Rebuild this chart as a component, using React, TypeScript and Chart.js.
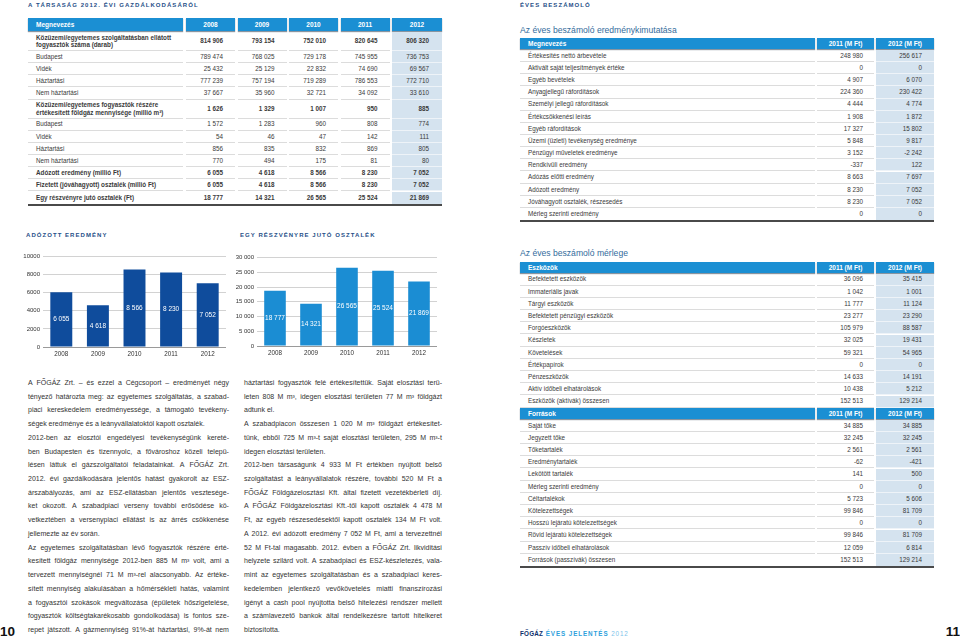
import React, { useEffect, useRef } from 'react';
import { Chart, registerables } from 'chart.js';

Chart.register(...registerables);

const FONT = '"Liberation Sans", Arial, Helvetica, sans-serif';

// ---------- chart data ----------
const years = ['2008', '2009', '2010', '2011', '2012'];
const adozottEredmeny = [6055, 4618, 8566, 8230, 7052];
const reszvenyreJutoOsztalek = [18777, 14321, 26565, 25524, 21869];

// ---------- table data ----------
const leftHeader = ['Megnevezés', '2008', '2009', '2010', '2011', '2012'];
const leftRows = [
  { label: ['Közüzemi/egyetemes szolgáltatásban ellátott', 'fogyasztók száma (darab)'], v: ['814 906', '793 154', '752 010', '820 645', '806 320'], bold: true },
  { label: ['Budapest'], v: ['789 474', '768 025', '729 178', '745 955', '736 753'] },
  { label: ['Vidék'], v: ['25 432', '25 129', '22 832', '74 690', '69 567'] },
  { label: ['Háztartási'], v: ['777 239', '757 194', '719 289', '786 553', '772 710'] },
  { label: ['Nem háztartási'], v: ['37 667', '35 960', '32 721', '34 092', '33 610'] },
  { label: ['Közüzemi/egyetemes fogyasztók részére', 'értékesített földgáz mennyisége (millió m³)'], v: ['1 626', '1 329', '1 007', '950', '885'], bold: true },
  { label: ['Budapest'], v: ['1 572', '1 283', '960', '808', '774'] },
  { label: ['Vidék'], v: ['54', '46', '47', '142', '111'] },
  { label: ['Háztartási'], v: ['856', '835', '832', '869', '805'] },
  { label: ['Nem háztartási'], v: ['770', '494', '175', '81', '80'] },
  { label: ['Adózott eredmény (millió Ft)'], v: ['6 055', '4 618', '8 566', '8 230', '7 052'], bold: true },
  { label: ['Fizetett (jóváhagyott) osztalék (millió Ft)'], v: ['6 055', '4 618', '8 566', '8 230', '7 052'], bold: true },
  { label: ['Egy részvényre jutó osztalék (Ft)'], v: ['18 777', '14 321', '26 565', '25 524', '21 869'], bold: true },
];

const incomeHeader = ['Megnevezés', '2011 (M Ft)', '2012 (M Ft)'];
const incomeRows = [
  ['Értékesítés nettó árbevétele', '248 980', '256 617'],
  ['Aktivált saját teljesítmények értéke', '0', '0'],
  ['Egyéb bevételek', '4 907', '6 070'],
  ['Anyagjellegű ráfordítások', '224 360', '230 422'],
  ['Személyi jellegű ráfordítások', '4 444', '4 774'],
  ['Értékcsökkenési leírás', '1 908', '1 872'],
  ['Egyéb ráfordítások', '17 327', '15 802'],
  ['Üzemi (üzleti) tevékenység eredménye', '5 848', '9 817'],
  ['Pénzügyi műveletek eredménye', '3 152', '-2 242'],
  ['Rendkívüli eredmény', '-337', '122'],
  ['Adózás előtti eredmény', '8 663', '7 697'],
  ['Adózott eredmény', '8 230', '7 052'],
  ['Jóváhagyott osztalék, részesedés', '8 230', '7 052'],
  ['Mérleg szerinti eredmény', '0', '0'],
];

const assetsHeader = ['Eszközök', '2011 (M Ft)', '2012 (M Ft)'];
const assetsRows = [
  ['Befektetett eszközök', '36 096', '35 415'],
  ['Immateriális javak', '1 042', '1 001'],
  ['Tárgyi eszközök', '11 777', '11 124'],
  ['Befektetett pénzügyi eszközök', '23 277', '23 290'],
  ['Forgóeszközök', '105 979', '88 587'],
  ['Készletek', '32 025', '19 431'],
  ['Követelések', '59 321', '54 965'],
  ['Értékpapírok', '0', '0'],
  ['Pénzeszközök', '14 633', '14 191'],
  ['Aktív időbeli elhatárolások', '10 438', '5 212'],
  ['Eszközök (aktívák) összesen', '152 513', '129 214'],
];
const sourcesHeader = ['Források', '2011 (M Ft)', '2012 (M Ft)'];
const sourcesRows = [
  ['Saját tőke', '34 885', '34 885'],
  ['Jegyzett tőke', '32 245', '32 245'],
  ['Tőketartalék', '2 561', '2 561'],
  ['Eredménytartalék', '-62', '-421'],
  ['Lekötött tartalék', '141', '500'],
  ['Mérleg szerinti eredmény', '0', '0'],
  ['Céltartalékok', '5 723', '5 606'],
  ['Kötelezettségek', '99 846', '81 709'],
  ['Hosszú lejáratú kötelezettségek', '0', '0'],
  ['Rövid lejáratú kötelezettségek', '99 846', '81 709'],
  ['Passzív időbeli elhatárolások', '12 059', '6 814'],
  ['Források (passzívák) összesen', '152 513', '129 214'],
];

// ---------- body text (line by line, last = paragraph end) ----------
const leftText: [string, boolean][] = [
  ['A FŐGÁZ Zrt. – és ezzel a Cégcsoport – eredményét négy', false],
  ['tényező határozta meg: az egyetemes szolgáltatás, a szabad-', false],
  ['piaci kereskedelem eredményessége, a támogató tevékeny-', false],
  ['ségek eredménye és a leányvállalatoktól kapott osztalék.', true],
  ['2012-ben az elosztói engedélyesi tevékenységünk kereté-', false],
  ['ben Budapesten és tizennyolc, a fővároshoz közeli telepü-', false],
  ['lésen láttuk el gázszolgáltatói feladatainkat. A FŐGÁZ Zrt.', false],
  ['2012. évi gazdálkodására jelentős hatást gyakorolt az ESZ-', false],
  ['árszabályozás, ami az ESZ-ellátásban jelentős vesztesége-', false],
  ['ket okozott. A szabadpiaci verseny további erősödése kö-', false],
  ['vetkeztében a versenypiaci ellátást is az árrés csökkenése', false],
  ['jellemezte az év során.', true],
  ['Az egyetemes szolgáltatásban lévő fogyasztók részére érté-', false],
  ['kesített földgáz mennyisége 2012-ben 885 M m³ volt, ami a', false],
  ['tervezett mennyiségnél 71 M m³-rel alacsonyabb. Az értéke-', false],
  ['sített mennyiség alakulásában a hőmérsékleti hatás, valamint', false],
  ['a fogyasztói szokások megváltozása (épületek hőszigetelése,', false],
  ['fogyasztók költségtakarékosabb gondolkodása) is fontos sze-', false],
  ['repet játszott. A gázmennyiség 91%-át háztartási, 9%-át nem', false],
];
const midText: [string, boolean][] = [
  ['háztartási fogyasztók felé értékesítettük. Saját elosztási terü-', false],
  ['leten 808 M m³, idegen elosztási területen 77 M m³ földgázt', false],
  ['adtunk el.', true],
  ['A szabadpiacon összesen 1 020 M m³ földgázt értékesítet-', false],
  ['tünk, ebből 725 M m³-t saját elosztási területen, 295 M m³-t', false],
  ['idegen elosztási területen.', true],
  ['2012-ben társaságunk 4 933 M Ft értékben nyújtott belső', false],
  ['szolgáltatást a leányvállalatok részére, további 520 M Ft a', false],
  ['FŐGÁZ Földgázelosztási Kft. által fizetett vezetékbérleti díj.', false],
  ['A FŐGÁZ Földgázelosztási Kft.-től kapott osztalék 4 478 M', false],
  ['Ft, az egyéb részesedésektől kapott osztalék 134 M Ft volt.', false],
  ['A 2012. évi adózott eredmény 7 052 M Ft, ami a tervezettnél', false],
  ['52 M Ft-tal magasabb. 2012. évben a FŐGÁZ Zrt. likviditási', false],
  ['helyzete szilárd volt. A szabadpiaci és ESZ-készletezés, vala-', false],
  ['mint az egyetemes szolgáltatásban és a szabadpiaci keres-', false],
  ['kedelemben jelentkező vevőkövetelés miatti finanszírozási', false],
  ['igényt a cash pool nyújtotta belső hitelezési rendszer mellett', false],
  ['a számlavezető bankok által rendelkezésre tartott hitelkeret', false],
  ['biztosította.', true],
];

const fmt = (n: number) => String(n).replace(/\B(?=(\d{3})+(?!\d))/g, ' ');

const HEAD_BG = '#1b8fd3';
const HL_BG = '#d5e3ef';
const TITLE_BLUE = '#1f4f88';

// ---------- Table ----------
type Col = { x: number; w: number; align: 'left' | 'right'; pad: number };
type TRow = { kind: 'head' | 'row'; h: number; cells: (string | string[])[]; bold?: boolean };

function Table({ cols, rows, top, hl }: { cols: Col[]; rows: TRow[]; top: number; hl: number }) {
  const els: any[] = [];
  let y = top;
  const L = cols[0].x;
  const R = cols[cols.length - 1].x + cols[cols.length - 1].w;
  rows.forEach((r, ri) => {
    const isLast = ri === rows.length - 1;
    cols.forEach((c, ci) => {
      const content = r.cells[ci];
      const lines = Array.isArray(content) ? content : [content];
      if (r.kind === 'head') {
        els.push(
          <div key={`${ri}-${ci}`} style={{
            position: 'absolute', left: c.x, top: y, width: c.w, height: r.h - 1,
            background: HEAD_BG, color: '#fff', fontWeight: 'bold', fontSize: 6.5,
            display: 'flex', alignItems: 'center',
            justifyContent: ci === 0 ? 'flex-start' : 'center',
            paddingLeft: ci === 0 ? c.pad : 0, boxSizing: 'border-box',
            boxShadow: '0 1px 1px rgba(40,60,80,0.55)', whiteSpace: 'nowrap',
          }}>{lines[0]}</div>
        );
      } else {
        els.push(
          <div key={`${ri}-${ci}`} style={{
            position: 'absolute', left: c.x, top: y, width: c.w, height: r.h,
            background: ci === hl ? HL_BG : 'transparent',
            borderBottom: isLast ? 'none' : `1px solid ${ci === hl ? '#eef3f8' : '#dcdcdc'}`,
            boxSizing: 'border-box', display: 'flex', flexDirection: 'column', justifyContent: 'center',
            alignItems: c.align === 'left' ? 'flex-start' : 'flex-end',
            paddingLeft: c.align === 'left' ? c.pad : 0, paddingRight: c.align === 'right' ? c.pad : 0,
            fontSize: 6.3, lineHeight: '7.4px', color: '#3a3a3a', fontWeight: r.bold ? 'bold' : 'normal',
            whiteSpace: 'nowrap',
          }}>{lines.map((t, i) => <div key={i}>{t}</div>)}</div>
        );
      }
    });
    y += r.h;
  });
  els.push(<div key="bottom" style={{ position: 'absolute', left: L, top: y, width: R - L, height: 2, background: '#4a4a4a' }} />);
  return <>{els}</>;
}

// ---------- Bar chart ----------
function BarChart(props: {
  left: number; top: number; width: number; height: number; values: number[]; color: string;
  max: number; step: number; yWidth: number; spaced: boolean;
}) {
  const ref = useRef<HTMLCanvasElement>(null);
  useEffect(() => {
    const labelPlugin = {
      id: 'barValueLabels',
      afterDatasetsDraw(chart: any) {
        const ctx = chart.ctx;
        const meta = chart.getDatasetMeta(0);
        ctx.save();
        ctx.fillStyle = '#ffffff';
        ctx.font = `6.5px ${FONT}`;
        ctx.textAlign = 'center';
        ctx.textBaseline = 'middle';
        meta.data.forEach((el: any, i: number) => {
          const v = chart.data.datasets[0].data[i] as number;
          ctx.fillText(fmt(v), el.x, (el.y + el.base) / 2);
        });
        ctx.restore();
      },
    };
    const chart = new Chart(ref.current as HTMLCanvasElement, {
      type: 'bar',
      data: {
        labels: years,
        datasets: [{
          data: props.values, backgroundColor: props.color,
          barPercentage: 0.6, categoryPercentage: 1, borderWidth: 0,
        }],
      },
      options: {
        animation: false, responsive: false, maintainAspectRatio: false, devicePixelRatio: 1,
        layout: { padding: { top: 6, left: 0, right: 0, bottom: 0 } },
        plugins: { legend: { display: false }, tooltip: { enabled: false }, title: { display: false } },
        scales: {
          y: {
            min: 0, max: props.max,
            ticks: {
              stepSize: props.step, padding: 3, color: '#333',
              font: { family: FONT, size: 6 },
              callback: (v: any) => (props.spaced ? fmt(Number(v)) : String(v)),
            },
            grid: { color: '#d2d2d2', drawTicks: false, lineWidth: 1 },
            border: { display: false },
            afterFit: (s: any) => { s.width = props.yWidth; },
          },
          x: {
            grid: { display: false, drawTicks: false, tickLength: 0 },
            border: { display: true, color: '#9a9a9a' },
            ticks: { padding: 3, color: '#333', font: { family: FONT, size: 6.3 } },
            afterFit: (s: any) => { s.height = 14; },
          },
        },
      } as any,
      plugins: [labelPlugin],
    });
    return () => chart.destroy();
  }, []);
  return (
    <canvas ref={ref} width={props.width} height={props.height}
      style={{ position: 'absolute', left: props.left, top: props.top, width: props.width, height: props.height }} />
  );
}

// ---------- text column ----------
const LH = 13.72;
function TextColumn({ left, top, width, lines }: { left: number; top: number; width: number; lines: [string, boolean][] }) {
  return (
    <div style={{ position: 'absolute', left, top, width, fontSize: 7, lineHeight: `${LH}px`, color: '#333' }}>
      {lines.map(([t, last], i) =>
        last ? (
          <div key={i} style={{ height: LH, whiteSpace: 'nowrap' }}>{t}</div>
        ) : (
          <div key={i} style={{ height: LH, display: 'flex', justifyContent: 'space-between', whiteSpace: 'nowrap' }}>
            {t.split(' ').map((w, j) => <span key={j}>{w}</span>)}
          </div>
        )
      )}
    </div>
  );
}

const capTitle = (text: string, left: number, top: number, color = TITLE_BLUE) => (
  <div style={{
    position: 'absolute', left, top, fontSize: 6, fontWeight: 'bold', letterSpacing: 1.05,
    color, whiteSpace: 'nowrap', lineHeight: '8px',
  }}>{text}</div>
);

export default function App() {
  const leftCols: Col[] = [
    { x: 28, w: 155, align: 'left', pad: 8 },
    { x: 186, w: 49, align: 'right', pad: 12 },
    { x: 237.5, w: 49, align: 'right', pad: 12 },
    { x: 289, w: 49, align: 'right', pad: 12 },
    { x: 340.5, w: 49, align: 'right', pad: 12 },
    { x: 392, w: 50, align: 'right', pad: 13 },
  ];
  const leftTRows: TRow[] = [{ kind: 'head', h: 14, cells: leftHeader }];
  leftRows.forEach((r) => {
    leftTRows.push({ kind: 'row', h: r.label.length > 1 ? 19 : 12.15, cells: [r.label, ...r.v], bold: r.bold });
  });

  const rightCols: Col[] = [
    { x: 520, w: 295, align: 'left', pad: 8 },
    { x: 817, w: 57, align: 'right', pad: 11 },
    { x: 876, w: 58, align: 'right', pad: 12 },
  ];
  const incomeTRows: TRow[] = [{ kind: 'head', h: 12, cells: incomeHeader }];
  incomeRows.forEach((r) => incomeTRows.push({ kind: 'row', h: 12.15, cells: r }));

  const balanceTRows: TRow[] = [{ kind: 'head', h: 11.5, cells: assetsHeader }];
  assetsRows.forEach((r) => balanceTRows.push({ kind: 'row', h: 12.2, cells: r }));
  balanceTRows.push({ kind: 'head', h: 12, cells: sourcesHeader });
  sourcesRows.forEach((r) => balanceTRows.push({ kind: 'row', h: 12.2, cells: r }));

  return (
    <div style={{
      position: 'absolute', left: 0, top: 0, width: 960, height: 639, overflow: 'hidden',
      background: '#fff', fontFamily: FONT,
    }}>
      {capTitle('A TÁRSASÁG 2012. ÉVI GAZDÁLKODÁSÁRÓL', 28, 1)}
      {capTitle('ÉVES BESZÁMOLÓ', 520, 1)}

      <Table cols={leftCols} rows={leftTRows} top={18} hl={5} />

      {capTitle('ADÓZOTT EREDMÉNY', 26, 231)}
      {capTitle('EGY RÉSZVÉNYRE JUTÓ OSZTALÉK', 240, 231)}

      <BarChart left={20} top={250} width={206} height={111} values={adozottEredmeny}
        color="#0f4c9c" max={10000} step={2000} yWidth={23} spaced={false} />
      <BarChart left={232} top={251} width={205} height={109} values={reszvenyreJutoOsztalek}
        color="#1b8dd3" max={30000} step={5000} yWidth={25} spaced={true} />

      <TextColumn left={28} top={376} width={201} lines={leftText} />
      <TextColumn left={244} top={376} width={198} lines={midText} />

      <div style={{ position: 'absolute', left: 520, top: 24, fontSize: 8.6, color: '#336c9c', whiteSpace: 'nowrap', lineHeight: '12px' }}>
        Az éves beszámoló eredménykimutatása
      </div>
      <Table cols={rightCols} rows={incomeTRows} top={38} hl={2} />

      <div style={{ position: 'absolute', left: 520, top: 247, fontSize: 8.6, color: '#336c9c', whiteSpace: 'nowrap', lineHeight: '12px' }}>
        Az éves beszámoló mérlege
      </div>
      <Table cols={rightCols} rows={balanceTRows} top={262} hl={2} />

      <div style={{ position: 'absolute', left: 0, top: 624, fontSize: 13.5, fontWeight: 'bold', color: '#111', lineHeight: '15px' }}>10</div>
      <div style={{ position: 'absolute', right: 0, top: 624, fontSize: 13.5, fontWeight: 'bold', color: '#111', lineHeight: '15px' }}>11</div>

      <div style={{ position: 'absolute', left: 520, top: 630, fontSize: 6.3, lineHeight: '8px', whiteSpace: 'nowrap', letterSpacing: 0.9 }}>
        <span style={{ color: '#0c2f6b', fontWeight: 'bold', letterSpacing: 0.2 }}>FŐGÁZ</span>
        <span style={{ color: '#2d9fdc', fontWeight: 'bold' }}> ÉVES JELENTÉS </span>
        <span style={{ color: '#7cc3ea' }}>2012</span>
      </div>
    </div>
  );
}
